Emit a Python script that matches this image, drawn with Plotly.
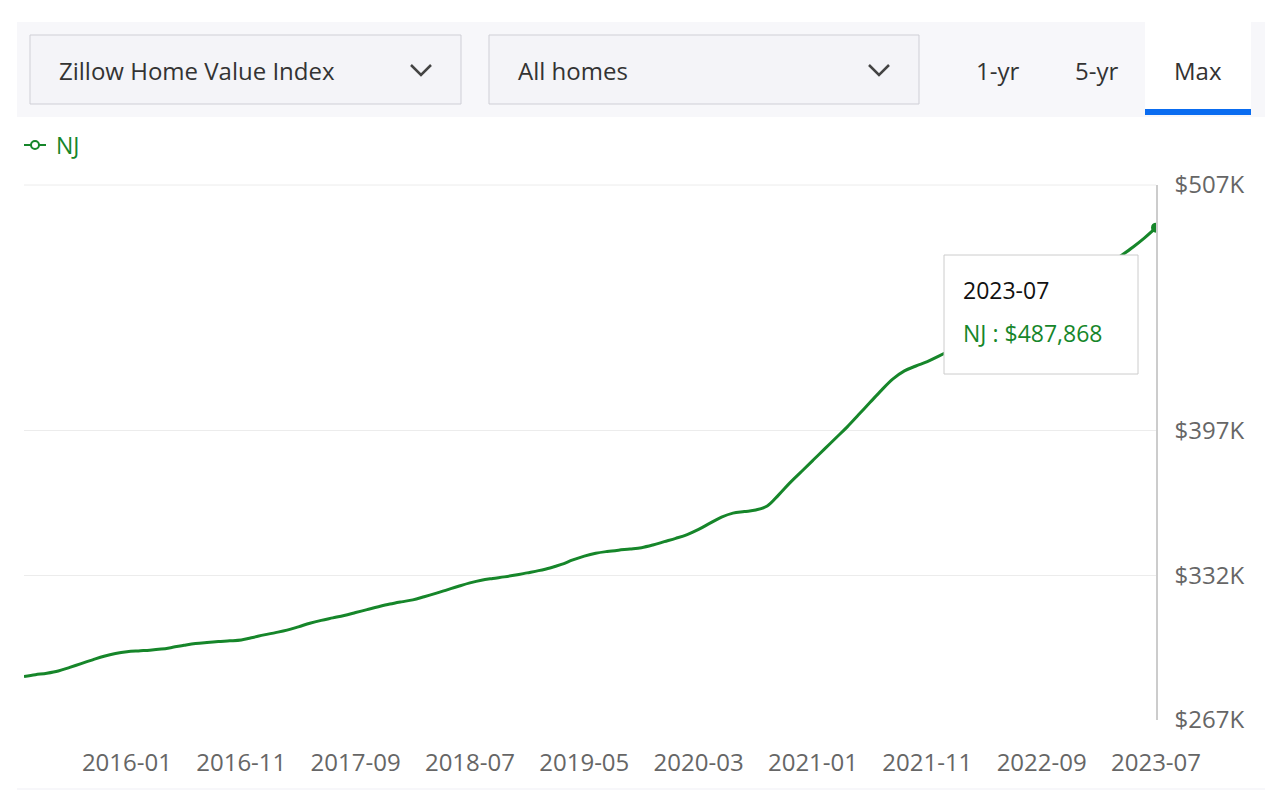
import plotly.graph_objects as go

months = [f"{y}-{m:02d}" for y in range(2015, 2024) for m in range(1, 13)]
months = months[months.index("2015-04"):months.index("2023-07") + 1]
values_k = [286.5, 287.3, 288.0, 289.0, 290.6, 292.3, 294.0, 295.6, 296.8,
            297.6, 298.0, 298.3, 298.8, 299.6, 300.5, 301.3, 301.8, 302.2, 302.5, 302.9, 304.0,
            305.2, 306.2, 307.3, 308.8, 310.4, 311.7, 312.8, 313.9, 315.2, 316.5, 317.8, 319.0,
            320.0, 320.9, 322.3, 323.8, 325.4, 327.0, 328.5, 329.7, 330.5, 331.2, 332.0, 333.0,
            334.0, 335.2, 336.8, 338.8, 340.5, 341.8, 342.6, 343.2, 343.7, 344.3, 345.5, 347.0,
            348.5, 350.2, 352.5, 355.3, 358.0, 359.8, 360.5, 361.2, 363.0, 368.0, 373.5, 378.5,
            383.5, 388.5, 393.5, 398.5, 404.0, 409.5, 415.0, 420.0, 423.6, 425.8, 427.8, 430.2,
            433.0, 436.5, 440.5, 444.5, 448.0, 451.0, 453.5, 455.5, 457.3, 459.2, 461.3, 463.5,
            466.0, 468.8, 472.0, 475.5, 479.2, 483.3, 487.868]
values = [v * 1000 for v in values_k]
x_ticks = ["2016-01", "2016-11", "2017-09", "2018-07", "2019-05", "2020-03",
           "2021-01", "2021-11", "2022-09", "2023-07"]
y_ticks = [267000, 332000, 397000, 507000]
y_ticktext = ["$267K", "$332K", "$397K", "$507K"]
tabs = ["1-yr", "5-yr", "Max"]

GREEN = "#16862a"
OFF = 8  # page body margin
L, R, T, B = 24 - OFF, 1156 - OFF, 185 - OFF, 720 - OFF
W, H = 1271, 782
def px(x): return (x - OFF - L) / (R - L)
def py(y): return (B - (y - OFF)) / (B - T)

fig = go.Figure()
fig.add_trace(go.Scatter(x=months, y=values, mode="lines", name="NJ",
                         line=dict(color=GREEN, width=3, shape="spline"),
                         hoverinfo="skip", showlegend=False))
fig.add_trace(go.Scatter(x=[months[-1]], y=[values[-1]], mode="markers",
                         marker=dict(color=GREEN, size=10), showlegend=False, hoverinfo="skip"))

shapes = []
ann = []
def rect(x0, y0, x1, y1, fill, line=None, lw=0):
    shapes.append(dict(type="rect", xref="paper", yref="paper", x0=px(x0), x1=px(x1),
                       y0=py(y1), y1=py(y0), fillcolor=fill,
                       line=dict(color=line or fill, width=lw), layer="above"))
def text(x, y, s, size=24, color="#333", xa="left"):
    ann.append(dict(xref="paper", yref="paper", x=px(x), y=py(y), text=s, showarrow=False,
                    xanchor=xa, yanchor="middle", font=dict(size=size, color=color)))
def chevron(cx, cy):
    shapes.append(dict(type="path", xref="paper", yref="paper",
                       path=f"M {px(cx-10)} {py(cy-5)} L {px(cx)} {py(cy+5)} L {px(cx+10)} {py(cy-5)}",
                       line=dict(color="#444", width=2.5), layer="above"))

# top gridline at 507K
shapes.append(dict(type="line", xref="paper", yref="paper", x0=0, x1=1, y0=1, y1=1,
                   line=dict(color="#ececec", width=1), layer="below"))
rect(17, 22, 1265, 117, "#f7f7fa")
rect(30, 35, 461, 104, "#f4f4f8", "#cfcfd6", 1)
rect(489, 35, 919, 104, "#f4f4f8", "#cfcfd6", 1)
rect(1145, 22, 1251, 112, "#ffffff")
rect(1145, 109, 1251, 115, "#0a6cf0")
rect(17, 788, 1265, 798, "#f7f7fa")
text(57, 70, "Zillow Home Value Index")
text(516, 70, "All homes")
chevron(421, 70)
chevron(879, 70)
for t, cx in zip(tabs, [997, 1096, 1198]):
    text(cx, 70, t, xa="center")
# legend
shapes.append(dict(type="line", xref="paper", yref="paper", x0=px(24), x1=px(46),
                   y0=py(145), y1=py(145), line=dict(color=GREEN, width=2)))
shapes.append(dict(type="circle", xref="paper", yref="paper", x0=px(31), x1=px(39),
                   y0=py(149), y1=py(141), fillcolor="white", line=dict(color=GREEN, width=2)))
text(54, 145, "NJ", size=23, color=GREEN)
# tooltip
rect(944, 255, 1138, 374, "#ffffff", "#cccccc", 1)
text(961, 290, "2023-07", size=23, color="#111")
text(961, 333, "NJ : $487,868", size=23, color=GREEN)

fig.update_layout(
    width=W, height=H, margin=dict(l=L, r=W - R, t=T, b=H - B),
    paper_bgcolor="white", plot_bgcolor="white",
    font=dict(family="Open Sans", size=24, color="#666"),
    shapes=shapes, annotations=ann, showlegend=False,
    xaxis=dict(type="category", range=[0, len(months) - 1], tickvals=x_ticks, ticktext=x_ticks,
               showgrid=False, ticks="", ticklabelstandoff=26,
               tickfont=dict(size=24, color="#666")),
    yaxis=dict(side="right", range=[267000, 507000], tickvals=y_ticks, ticktext=y_ticktext,
               showgrid=True, gridcolor="#ececec", zeroline=False, showline=True,
               linecolor="#cccccc", linewidth=1.5, ticklabelstandoff=12,
               tickfont=dict(size=24, color="#666")),
)
fig.write_html("out.html")
